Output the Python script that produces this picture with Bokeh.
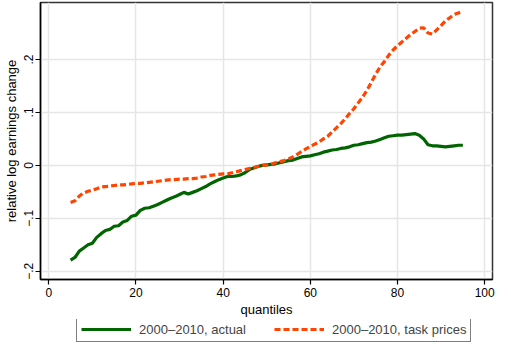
from bokeh.plotting import figure
from bokeh.layouts import column
from bokeh.models import ColumnDataSource, Legend, LegendItem, FixedTicker, Range1d
from bokeh.embed import file_html
from bokeh.resources import INLINE

quantiles = list(range(5, 96))
actual = [-0.179, -0.174, -0.162, -0.156, -0.150, -0.147, -0.136, -0.129, -0.123, -0.121,
          -0.115, -0.114, -0.107, -0.104, -0.096, -0.094, -0.085, -0.081, -0.080, -0.077,
          -0.074, -0.070, -0.066, -0.062, -0.059, -0.055, -0.051, -0.054, -0.051, -0.048,
          -0.044, -0.040, -0.035, -0.031, -0.027, -0.024, -0.021, -0.021, -0.020, -0.018,
          -0.014, -0.008, -0.005, -0.002, 0.000, 0.001, 0.002, 0.003, 0.005, 0.007,
          0.009, 0.010, 0.013, 0.016, 0.017, 0.018, 0.020, 0.022, 0.025, 0.027,
          0.029, 0.030, 0.032, 0.033, 0.035, 0.038, 0.039, 0.041, 0.043, 0.044,
          0.046, 0.049, 0.052, 0.055, 0.056, 0.057, 0.057, 0.058, 0.059, 0.060,
          0.057, 0.050, 0.039, 0.037, 0.037, 0.036, 0.035, 0.036, 0.037, 0.038, 0.038]
task_prices = [-0.070, -0.067, -0.058, -0.052, -0.049, -0.047, -0.044, -0.041, -0.040, -0.039,
               -0.038, -0.037, -0.037, -0.036, -0.035, -0.034, -0.034, -0.033, -0.032, -0.031,
               -0.030, -0.029, -0.028, -0.027, -0.027, -0.026, -0.026, -0.025, -0.025, -0.024,
               -0.022, -0.021, -0.019, -0.018, -0.017, -0.016, -0.016, -0.014, -0.012, -0.010,
               -0.008, -0.006, -0.004, -0.002, 0.000, 0.001, 0.002, 0.005, 0.007, 0.009,
               0.012, 0.016, 0.021, 0.026, 0.031, 0.036, 0.040, 0.044, 0.050, 0.055,
               0.063, 0.071, 0.079, 0.088, 0.098, 0.107, 0.118, 0.129, 0.142, 0.157,
               0.172, 0.186, 0.196, 0.208, 0.218, 0.226, 0.233, 0.240, 0.247, 0.253,
               0.259, 0.260, 0.250, 0.248, 0.256, 0.264, 0.273, 0.279, 0.285, 0.288, 0.291]

x_ticks = [0, 20, 40, 60, 80, 100]
y_ticks = [-0.2, -0.1, 0.0, 0.1, 0.2]
y_tick_labels = ["\u2212.2", "\u2212.1", "0", ".1", ".2"]
series_names = ["2000\u20132010, actual", "2000\u20132010, task prices"]

FONT = "Liberation Sans"
GREEN = "#006400"
ORANGE = "#ff4500"

source = ColumnDataSource(data=dict(q=quantiles, actual=actual, task=task_prices))

p = figure(width=495, height=319, output_backend="svg", toolbar_location=None,
           x_range=Range1d(-1.9, 101.8), y_range=Range1d(-0.2156, 0.3077),
           min_border_left=0, min_border_right=3, min_border_top=2, min_border_bottom=38,
           background_fill_color="white", border_fill_color="white")

p.outline_line_color = "#333333"
p.outline_line_width = 1.5

for ax in (p.xaxis[0], p.yaxis[0]):
    ax.axis_line_color = "black"
    ax.axis_line_width = 1.5
    ax.major_tick_line_color = "black"
    ax.major_tick_line_width = 1.2
    ax.major_tick_out = 5
    ax.major_tick_in = 0
    ax.minor_tick_line_color = None
    ax.major_label_text_font = FONT
    ax.major_label_text_font_size = "12px"
    ax.major_label_text_color = "black"
    ax.axis_label_text_font = FONT
    ax.axis_label_text_font_size = "13px"
    ax.axis_label_text_font_style = "normal"
    ax.axis_label_text_color = "black"

p.xaxis[0].ticker = FixedTicker(ticks=x_ticks)
p.xaxis[0].axis_label = "quantiles"
p.xaxis[0].axis_label_standoff = 2
p.xaxis[0].major_label_standoff = 3

p.yaxis[0].ticker = FixedTicker(ticks=y_ticks)
p.yaxis[0].major_label_overrides = {t: l for t, l in zip(y_ticks, y_tick_labels)}
p.yaxis[0].major_label_orientation = "vertical"
p.yaxis[0].axis_label = "relative log earnings change"
p.yaxis[0].axis_label_standoff = 3
p.yaxis[0].major_label_standoff = 2

p.xgrid.ticker = FixedTicker(ticks=x_ticks)
p.ygrid.ticker = FixedTicker(ticks=y_ticks)
p.xgrid.grid_line_color = "#e6e6e6"
p.ygrid.grid_line_color = "#e6e6e6"
p.xgrid.grid_line_width = 1.5
p.ygrid.grid_line_width = 1.5

p.line("q", "actual", source=source, line_color=GREEN, line_width=3.2)
p.line("q", "task", source=source, line_color=ORANGE, line_width=3.2, line_dash="6 3")

# Legend strip below the chart: hidden copies of the series supply the swatches
lg = figure(width=495, height=23, output_backend="svg", toolbar_location=None,
            x_axis_location=None, y_axis_location=None,
            min_border_left=0, min_border_right=0, min_border_top=0, min_border_bottom=0,
            x_range=Range1d(1000, 1001), y_range=Range1d(1000, 1001),
            background_fill_color="white", border_fill_color="white")
lg.grid.visible = False
lg.outline_line_color = None
s1 = lg.line("q", "actual", source=source, line_color=GREEN, line_width=3.2)
s2 = lg.line("q", "task", source=source, line_color=ORANGE, line_width=3.2, line_dash="6 3")

legend = Legend(items=[LegendItem(label=series_names[0], renderers=[s1]),
                       LegendItem(label=series_names[1], renderers=[s2])],
                orientation="horizontal", location=(36, 0.5),
                label_text_font=FONT, label_text_font_size="13px",
                glyph_width=50, glyph_height=14, label_standoff=8, spacing=28,
                padding=4, margin=0, label_height=14,
                border_line_color="black", border_line_width=1,
                background_fill_alpha=1)
lg.add_layout(legend, "center")

open("out.html", "w").write(file_html(column(p, lg, spacing=0), INLINE))
